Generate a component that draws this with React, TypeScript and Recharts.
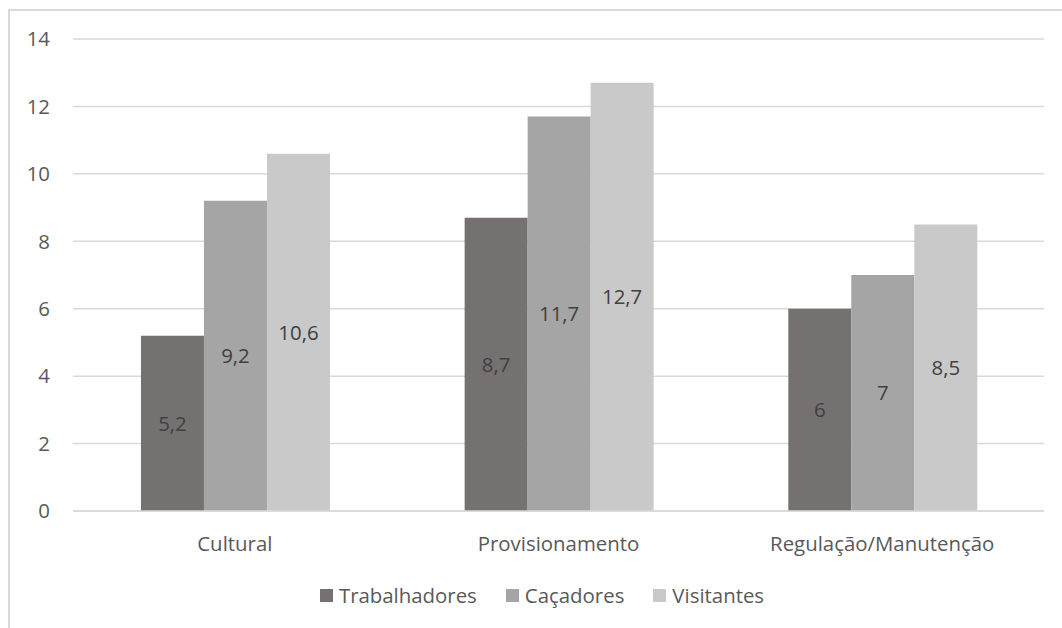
import { BarChart, Bar, XAxis, YAxis, CartesianGrid, Legend, LabelList } from "recharts";

const categories = ["Cultural", "Provisionamento", "Regulação/Manutenção"];
const trabalhadores = [5.2, 8.7, 6];
const cacadores = [9.2, 11.7, 7];
const visitantes = [10.6, 12.7, 8.5];
const yTicks = [0, 2, 4, 6, 8, 10, 12, 14];

const series = [
  { key: "trabalhadores", name: "Trabalhadores", color: "#767171" },
  { key: "cacadores", name: "Caçadores", color: "#a5a5a5" },
  { key: "visitantes", name: "Visitantes", color: "#c9c9c9" },
];

const data = categories.map((c, i) => ({
  cat: c,
  trabalhadores: trabalhadores[i],
  cacadores: cacadores[i],
  visitantes: visitantes[i],
}));

const font = "'Open Sans', sans-serif";
const fmt = (v: any) => String(v).replace(".", ",");

function LegendContent() {
  return (
    <div
      style={{
        display: "flex",
        justifyContent: "center",
        alignItems: "center",
        height: 30,
        paddingLeft: 22,
        fontFamily: font,
        fontSize: 20.4,
        color: "#595959",
      }}
    >
      {series.map((s, i) => (
        <div key={s.key} style={{ display: "flex", alignItems: "center", marginLeft: i ? 29 : 0 }}>
          <span style={{ width: 13, height: 13, background: s.color, marginRight: 6, display: "inline-block" }} />
          <span>{s.name}</span>
        </div>
      ))}
    </div>
  );
}

export default function App() {
  return (
    <div style={{ position: "relative", width: 1062, height: 628, overflow: "hidden", background: "#fff" }}>
      <style>{`body{margin:0;overflow:hidden}`}</style>
      <div
        style={{
          position: "absolute",
          left: 8,
          top: 9,
          width: 1200,
          height: 800,
          borderLeft: "2px solid #d9d9d9",
          borderTop: "2px solid #d9d9d9",
        }}
      />
      <div style={{ position: "absolute", left: 0, top: 0 }}>
        <BarChart
          width={1062}
          height={628}
          data={data}
          margin={{ top: 39, right: 18, left: 0, bottom: 18 }}
          barCategoryGap="21%"
          barGap={0}
        >
          <CartesianGrid vertical={false} stroke="#d9d9d9" strokeWidth={1.5} />
          <XAxis
            dataKey="cat"
            height={69}
            tickSize={0}
            tickMargin={26}
            axisLine={{ stroke: "#d9d9d9", strokeWidth: 1.5 }}
            tickLine={false}
            tick={{ fill: "#595959", fontSize: 20.4, fontFamily: font }}
          />
          <YAxis
            width={73}
            domain={[0, 14]}
            ticks={yTicks}
            tickSize={0}
            tickMargin={23}
            axisLine={false}
            tickLine={false}
            tick={{ fill: "#595959", fontSize: 20.4, fontFamily: font }}
          />
          <Legend
            verticalAlign="bottom"
            wrapperStyle={{ left: 0, width: 1062 }}
            content={<LegendContent />}
          />
          {series.map((s) => (
            <Bar key={s.key} dataKey={s.key} name={s.name} fill={s.color} isAnimationActive={false}>
              <LabelList
                dataKey={s.key}
                position="center"
                formatter={fmt}
                fill="#404040"
                fontSize={20.4}
                fontFamily={font}
              />
            </Bar>
          ))}
        </BarChart>
      </div>
    </div>
  );
}
